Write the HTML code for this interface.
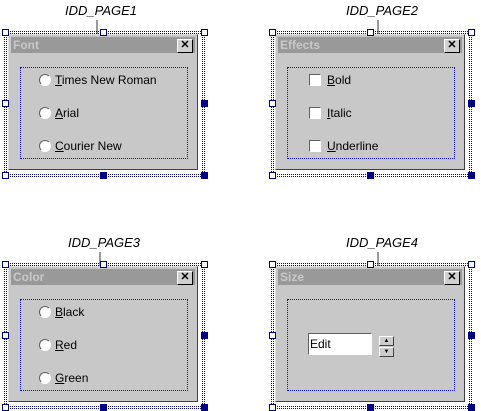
<!DOCTYPE html>
<html><head><meta charset="utf-8"><style>
body{margin:0;width:481px;height:411px;background:#fff;position:relative;overflow:hidden;font-family:"Liberation Sans",sans-serif;font-size:11px}
.abs{position:absolute}
.sel{position:absolute;width:200px;height:144px}
.dot{position:absolute;border-top:1px dotted #00008b}
.dotv{position:absolute;border-left:1px dotted #00008b}
.h{position:absolute;width:5px;height:5px;border:1px solid #00008b;background:#fff}
.hf{background:#00008b}
.dlg{position:absolute;left:4px;top:3px;width:190px;height:136px;background:#c8c8c8;border:1px solid;border-color:#e0e0e0 #404040 #404040 #e0e0e0;box-sizing:border-box}
.title{position:absolute;left:2px;top:2px;right:2px;height:16px;background:#999;color:#c8c8c8;font-weight:bold;font-size:12px;line-height:16px;padding-left:2px}
.close{position:absolute;right:2px;top:2px;width:14px;height:12px;background:#d0d0d0;border:1px solid;border-color:#fff #000 #000 #fff;font-size:11px;line-height:11px;text-align:center;color:#000;font-weight:bold}
.grp{position:absolute;left:11px;top:32px;width:168px;height:92px;border:1px dotted #1010d0;box-sizing:border-box}
.lab{position:absolute;font-style:italic;font-size:13px;color:#000}
.stem{position:absolute;width:2px;background:#999}
.radio{position:absolute;width:10px;height:10px;border-radius:50%;background:#fff;border:1px solid;border-color:#606060 #fff #fff #606060}
.cb{position:absolute;width:10px;height:10px;background:#fff;border:1px solid;border-color:#606060 #fff #fff #606060}
.it{position:absolute;font-size:12px;line-height:14px;color:#000}
</style></head><body>
<div id="root"></div>
<script>
var panels=[
 {x:4,y:31,label:'IDD_PAGE1',stem:97,title:'Font',kind:'radio',items:['Times New Roman','Arial','Courier New']},
 {x:271,y:31,label:'IDD_PAGE2',stem:378,title:'Effects',kind:'cb',items:['Bold','Italic','Underline']},
 {x:4,y:263,label:'IDD_PAGE3',stem:100,title:'Color',kind:'radio',items:['Black','Red','Green']},
 {x:271,y:263,label:'IDD_PAGE4',stem:378,title:'Size',kind:'edit',items:[]}
];
var root=document.getElementById('root');
function mk(cls,parent,css){var e=document.createElement('div');e.className=cls;if(css)e.style.cssText=css;parent.appendChild(e);return e;}
panels.forEach(function(p,i){
 var lab=mk('lab',document.body,'left:'+(p.stem-32)+'px;top:'+(p.y-28)+'px;width:64px;text-align:center');
 lab.textContent=p.label;
 
 
 var st=mk('stem',document.body,'left:'+(p.stem-1)+'px;top:'+(p.y-11)+'px;height:17px');
 
 
 var s=mk('sel',document.body,'left:'+p.x+'px;top:'+p.y+'px');
 
 
 mk('dot',s,'left:3px;top:2px;width:196px');mk('dot',s,'left:3px;top:145px;width:196px');
 mk('dot',s,'left:3px;top:0px;width:196px');mk('dot',s,'left:3px;top:143px;width:196px');
 mk('dotv',s,'left:0px;top:3px;height:140px');mk('dotv',s,'left:2px;top:3px;height:140px');
 mk('dotv',s,'left:198px;top:3px;height:140px');mk('dotv',s,'left:200px;top:3px;height:140px');
 var d=mk('dlg',s);
 
 
 var t=mk('title',d);t.textContent=p.title;
 
 
 var c=mk('close',t);c.textContent='✕';
 
 
 var g=mk('grp',d);
 
 
 p.items.forEach(function(txt,j){
  var top=40+j*33;
  var b=mk(p.kind,d,'left:'+(p.kind=='radio'?30:33)+'px;top:'+(top-1)+'px');
  
  
  var l=mk('it',d,'left:'+(p.kind=='radio'?46:51)+'px;top:'+(top-2)+'px');
  l.innerHTML='<u>'+txt[0]+'</u>'+txt.slice(1);
  
  
 });
 if(p.kind=='edit'){
  var e=mk('abs',d,'left:32px;top:66px;width:64px;height:22px;background:#fff;border:1px solid;border-color:#606060 #fff #fff #606060;box-sizing:border-box;font-size:12px;line-height:20px;padding-left:1px');
  e.textContent='Edit';
  
  
  var u=mk('abs',d,'left:103px;top:69px;width:13px;height:8px;background:#ccc;border:1px solid;border-color:#fff #404040 #404040 #fff;font-size:6px;line-height:8px;text-align:center');u.textContent='▲';
  
  
  var dn=mk('abs',d,'left:103px;top:80px;width:13px;height:8px;background:#ccc;border:1px solid;border-color:#fff #404040 #404040 #fff;font-size:6px;line-height:8px;text-align:center');dn.textContent='▼';
  
  
 }
 [[0,0,0],[98,0,0],[199,0,0],[0,71,0],[199,71,1],[0,143,0],[98,143,1],[199,143,1]].forEach(function(h){
  var el=mk('h'+(h[2]?' hf':''),s,'left:'+(h[0]-2)+'px;top:'+(h[1]-2)+'px');
  
  
 });
});
</script>
</body></html>
